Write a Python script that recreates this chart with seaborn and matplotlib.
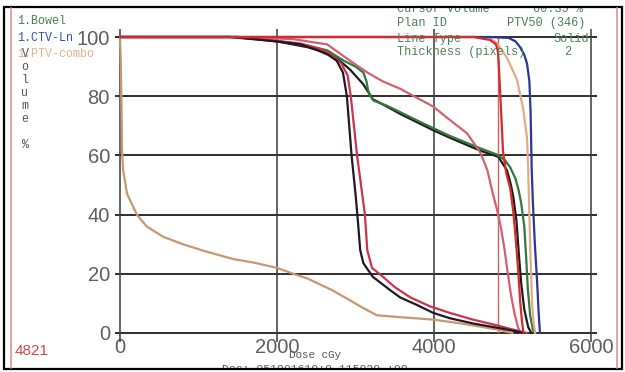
import matplotlib
matplotlib.use("Agg")
import matplotlib.pyplot as plt
from matplotlib.patches import Rectangle
from matplotlib.lines import Line2D
import pandas as pd
import seaborn as sns

# ---- cumulative DVH curves: dose in cGy, volume in % ----
steep_black_dose = [0, 1400, 2000, 2300, 2510, 2650, 2760, 2840, 2890, 2950, 3000, 3030, 3060,
                    3100, 3220, 3440, 3570, 3780, 3990, 4200, 4500, 4800, 5000, 5150]
steep_black_vol = [100, 100, 98.5, 97.5, 95.6, 94, 92, 88, 80, 60, 47, 38, 28,
                   23.6, 19, 14.5, 12, 9.5, 6.8, 5, 3.2, 1.8, 0.8, 0]

steep_red_dose = [0, 1400, 2000, 2300, 2550, 2700, 2820, 2900, 2940, 3020, 3080, 3120, 3150,
                  3210, 3350, 3500, 3700, 3950, 4200, 4500, 4800, 5000, 5180]
steep_red_vol = [100, 100, 98.7, 97.8, 96, 94, 91, 87, 80, 60, 48, 40, 28,
                 22, 19, 15.5, 12, 9, 6.8, 4.5, 2.6, 1.2, 0]

mid_black_dose = [0, 1500, 2000, 2400, 2710, 2930, 3100, 3220, 3400, 3570, 3800, 3990, 4200,
                  4420, 4600, 4821, 4880, 4930, 4980, 5010, 5050, 5080, 5110, 5150, 5200, 5240]
mid_black_vol = [100, 100, 98.5, 96.5, 94, 89, 84, 79, 76.5, 74, 71, 68.5, 66,
                 63.5, 61.5, 59.5, 57, 55, 50, 46, 38, 27, 17, 8, 2, 0]

bowel_dose = [0, 1500, 2000, 2400, 2640, 2850, 3000, 3100, 3140, 3160, 3190, 3230, 3400, 3570,
              3800, 3990, 4200, 4420, 4600, 4800, 4900, 4970, 5040, 5080, 5110, 5150, 5175,
              5195, 5225, 5260, 5280]
bowel_vol = [100, 100, 98.7, 97, 95.5, 92, 90, 88, 85, 82, 80, 78.5, 76.8, 74.6,
             71.6, 69.2, 66.6, 64.2, 62.3, 60.3, 58.5, 56, 52, 48, 44, 36, 25,
             15, 6, 1, 0]

diag_pink_dose = [0, 1500, 2200, 2640, 2930, 3150, 3350, 3570, 3780, 3990, 4200, 4420, 4590,
                  4680, 4750, 4800, 4850, 4900, 4930, 4980, 5030, 5070, 5100]
diag_pink_vol = [100, 100, 99.3, 97.5, 92, 88, 85, 82.5, 79.5, 76.5, 72, 67.5, 61,
                 55, 47, 42, 36, 28, 22, 13, 6, 2, 0]

ptv50_dose = [0, 4500, 4714, 4790, 4815, 4830, 4840, 4860, 4880, 4920, 4970, 5010, 5040,
              5070, 5100, 5120, 5140]
ptv50_vol = [100, 100, 99, 97.5, 95, 88, 83, 72, 61, 54, 49, 41, 32,
             22, 10, 4, 0]

ptv_combo_dose = [0, 4500, 4700, 4800, 4930, 5058, 5134, 5185, 5200, 5215, 5230, 5250, 5270, 5290]
ptv_combo_vol = [100, 100, 99.8, 98, 93, 85.5, 76, 66, 55, 40, 25, 10, 3, 0]

ctv_ln_dose = [0, 4700, 4950, 5040, 5096, 5150, 5185, 5215, 5230, 5245, 5258, 5285, 5312, 5335, 5350]
ctv_ln_vol = [100, 100, 99.7, 98.5, 96.6, 94, 91, 85, 75, 55, 45, 30, 18, 6, 0]

low_tan_dose = [0, 10, 20, 25, 40, 90, 215, 340, 550, 800, 1100, 1440, 1700, 2000, 2250,
                2380, 2700, 2900, 3060, 3200, 3270, 3500, 4000, 4400, 4800, 5000]
low_tan_vol = [100, 92, 75, 62, 55, 47, 40, 36, 32.5, 30, 27.5, 25, 23.8, 22, 19.6,
               18.5, 14.5, 11.5, 9, 7, 6, 5.5, 4.5, 3, 1.2, 0]

cursor_dose = 4821
cursor_volume = 60.35

x_ticks = [0, 2000, 4000, 6000]
y_ticks = [0, 20, 40, 60, 80, 100]

curves = [
    ("low tan", low_tan_dose, low_tan_vol, "#c9976f"),
    ("mid black", mid_black_dose, mid_black_vol, "#1c1c1c"),
    ("Bowel", bowel_dose, bowel_vol, "#2f7a3c"),
    ("diag pink", diag_pink_dose, diag_pink_vol, "#d2606e"),
    ("steep red", steep_red_dose, steep_red_vol, "#c8354c"),
    ("steep black", steep_black_dose, steep_black_vol, "#241624"),
    ("PTV-combo", ptv_combo_dose, ptv_combo_vol, "#e3aa86"),
    ("CTV-Ln", ctv_ln_dose, ctv_ln_vol, "#2b3696"),
    ("PTV50", ptv50_dose, ptv50_vol, "#d82a2a"),
]

frames = []
for name, d, v, _ in curves:
    frames.append(pd.DataFrame({"structure": name, "dose": d, "volume": v}))
dvh = pd.concat(frames, ignore_index=True)
palette = {name: c for name, _, _, c in curves}

sns.set_style("white")
plt.rcParams["font.family"] = ["Liberation Sans Narrow", "Liberation Sans", "DejaVu Sans"]

W, H = 625, 372
fig = plt.figure(figsize=(W / 100, H / 100), dpi=100)
fig.patch.set_facecolor("white")


def fx(px):
    return px / W


def fy(py):
    return 1 - py / H


ax = fig.add_axes([fx(112), fy(336), (600 - 112) / W, (336 - 28) / H])
px_per_dose = 157 / 2000
px_per_vol = 2.96
ax.set_xlim((112 - 120) / px_per_dose, (600 - 120) / px_per_dose)
ax.set_ylim((333 - 336) / px_per_vol, (333 - 28) / px_per_vol)

# grid
ax.hlines(y_ticks, -64, 6077, colors="#1e1e1e", lw=1.3, zorder=1, clip_on=False)
ax.vlines(x_ticks, -3.0, 102.7, colors="#3a3a3a", lw=1.1, zorder=1, clip_on=False)

sns.lineplot(data=dvh, x="dose", y="volume", hue="structure", palette=palette,
             hue_order=[c[0] for c in curves], units="structure", estimator=None,
             sort=False, lw=1.6, legend=False, ax=ax, zorder=3)

# dose cursor
ax.vlines(cursor_dose, 0, 100, colors="#c86464", lw=1.0, zorder=2)

for s in ax.spines.values():
    s.set_visible(False)
ax.set_xlabel("")
ax.set_ylabel("")
ax.set_xticks(x_ticks)
ax.set_xticklabels([str(t) for t in x_ticks])
ax.set_yticks(y_ticks)
ax.set_yticklabels([str(t) for t in y_ticks])
ax.tick_params(axis="both", length=0, labelsize=14.5, labelcolor="#5e5e5e")
ax.tick_params(axis="x", pad=1.5)
ax.tick_params(axis="y", pad=1.5)

mono = ["Liberation Mono", "DejaVu Sans Mono"]

# structure list, top left
fig.text(fx(17), fy(21), "1.Bowel", family=mono, fontsize=8.4, color="#3f8450", va="center")
fig.text(fx(17), fy(38), "1.CTV-Ln", family=mono, fontsize=8.4, color="#3550a5", va="center")
fig.text(fx(17), fy(54), "1.PTV-combo", family=mono, fontsize=8.4, color="#e2b193", va="center")

# vertical axis title, one letter per row
for i, ch in enumerate("Volume %"):
    fig.text(fx(25), fy(54 + 13 * i), ch, family=mono, fontsize=8.4, color="#555555",
             va="center", ha="center")

# cursor read-out, top right
info_col = "#4c7f5c"
fig.text(fx(397), fy(9), "Cursor Volume", family=mono, fontsize=8.6, color=info_col, va="center")
fig.text(fx(533), fy(9), f"{cursor_volume:.2f} %", family=mono, fontsize=8.6, color=info_col, va="center")
fig.text(fx(397), fy(23), "Plan ID", family=mono, fontsize=8.6, color=info_col, va="center")
fig.text(fx(507), fy(23), "PTV50 (346)", family=mono, fontsize=8.6, color=info_col, va="center")
fig.text(fx(397), fy(39), "Line Type", family=mono, fontsize=8.6, color=info_col, va="center")
fig.text(fx(553), fy(39), "Solid", family=mono, fontsize=8.6, color=info_col, va="center")
fig.text(fx(397), fy(52), "Thickness (pixels)", family=mono, fontsize=8.6, color=info_col, va="center")
fig.text(fx(564), fy(52), "2", family=mono, fontsize=8.6, color=info_col, va="center")

# bottom texts
fig.text(fx(15), fy(351), f"{cursor_dose}", fontsize=11, color="#d04848", va="center")
fig.text(fx(289), fy(355), "Dose cGy", family=mono, fontsize=7.8, color="#555555", va="center")
fig.text(fx(222), fy(364), "Doc: 051901619:0 115020 :00", family=mono, fontsize=8.2,
         color="#555555", va="top")

# frame
fig.add_artist(Rectangle((0, fy(7)), 1, 7 / H, transform=fig.transFigure,
                         facecolor="white", edgecolor="none", zorder=10))
fig.add_artist(Rectangle((0, 0), 1, 3 / H, transform=fig.transFigure,
                         facecolor="white", edgecolor="none", zorder=10))
fig.add_artist(Rectangle((fx(4), fy(369)), (622 - 4) / W, (369 - 7) / H, transform=fig.transFigure,
                         fill=False, edgecolor="black", lw=1.6, zorder=11))
for xp in (11, 617):
    fig.add_artist(Line2D([fx(xp), fx(xp)], [fy(8), fy(368)], transform=fig.transFigure,
                          color="#e39a9a", lw=1.3, zorder=11))

fig.savefig("out.png", dpi=100)
